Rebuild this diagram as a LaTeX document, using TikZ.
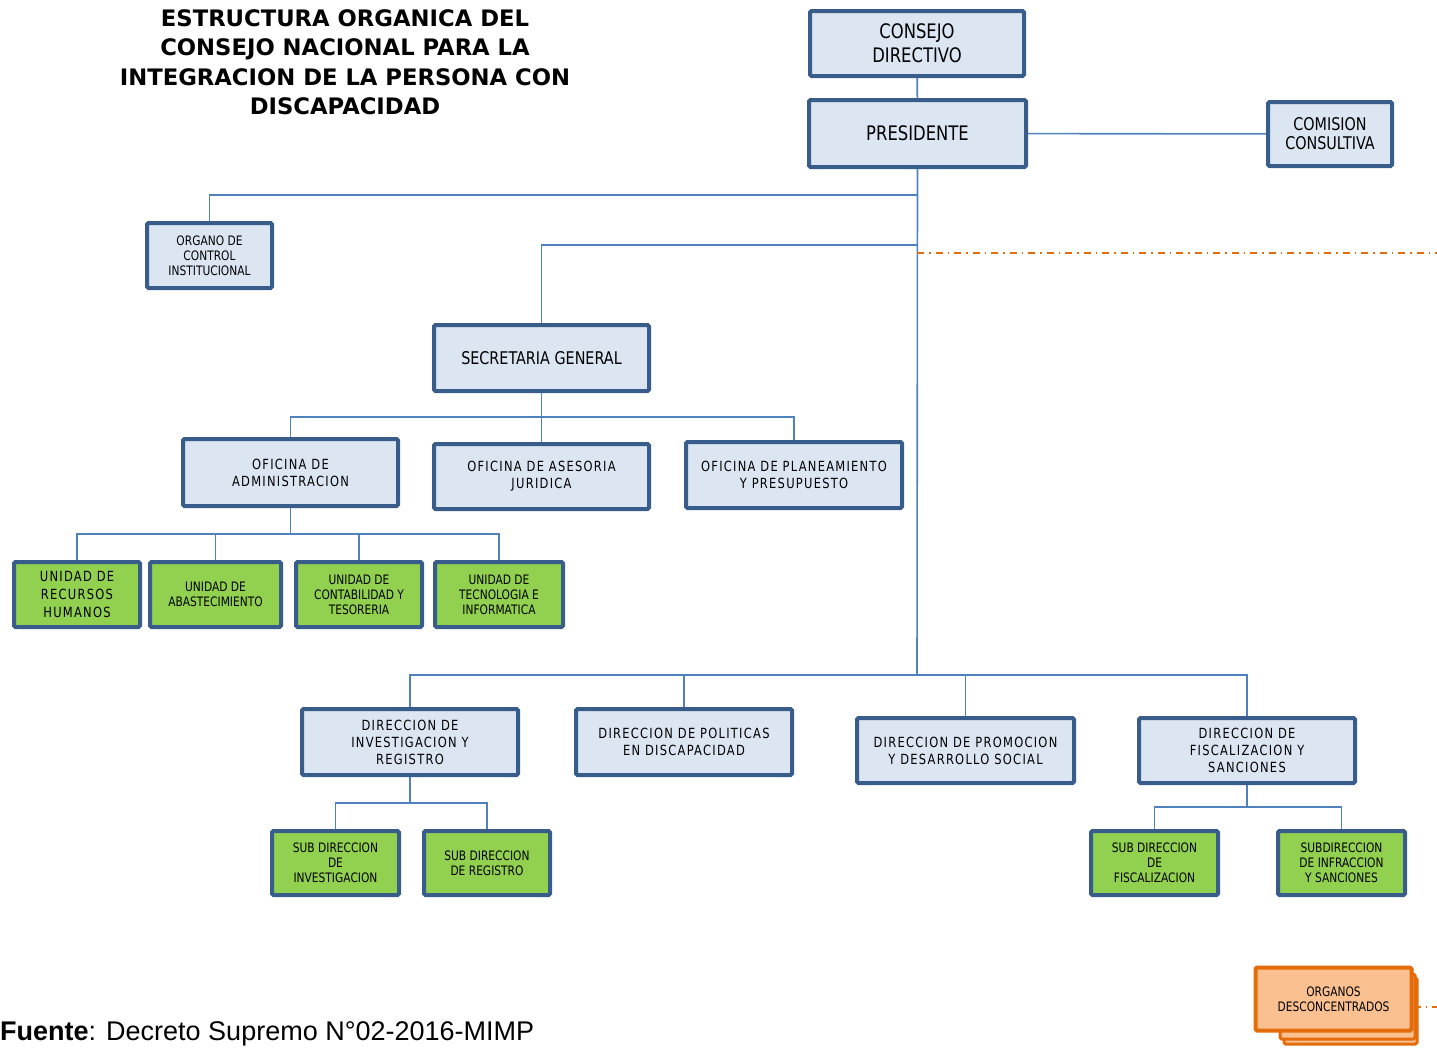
\documentclass[tikz,border=0pt]{standalone}
\usepackage{fontspec}
\setmainfont{DejaVu Sans}
\newfontfamily\tah[FakeStretch=0.82]{DejaVu Sans}
\newfontfamily\tahsp[FakeStretch=0.82,LetterSpace=9]{DejaVu Sans}
\newfontfamily\ttl{DejaVu Sans}
\newfontfamily\arialf{Liberation Sans}
\definecolor{boxfill}{HTML}{DCE6F2}
\definecolor{boxline}{HTML}{385D8A}
\definecolor{grn}{HTML}{92D050}
\definecolor{conn}{HTML}{4F81BD}
\definecolor{orfill}{HTML}{FAC090}
\definecolor{orline}{HTML}{E46C0A}
\begin{document}
\begin{tikzpicture}[x=1pt,y=-1pt,
  bbox/.style={draw=boxline,fill=boxfill,line width=4pt,rounded corners=1.5pt,inner sep=0pt,align=center,text=black},
  gbox/.style={bbox,fill=grn},
  obox/.style={draw=orline,fill=orfill,line width=4pt,rounded corners=1.5pt,inner sep=0pt,align=center,text=black},
  ln/.style={draw=conn,line width=1.6pt},
  dl/.style={draw=orline,line width=1.4pt,dash pattern=on 7pt off 5pt on 1.5pt off 5pt},
  fa/.style={font=\tah\fontsize{20}{24}\selectfont},
  fb/.style={font=\tah\fontsize{17.5}{19}\selectfont},
  fc/.style={font=\tah\fontsize{13}{15}\selectfont},
  fd/.style={font=\tahsp\fontsize{14}{17}\selectfont},
  fe/.style={font=\tahsp\fontsize{14}{18}\selectfont},
]
\useasboundingbox (0,0) rectangle (1437,1047);

% title
\node[font=\ttl\bfseries\fontsize{22.7}{29.5}\selectfont,align=center] (title) at (345,62)
  {ESTRUCTURA ORGANICA DEL\\CONSEJO NACIONAL PARA LA\\INTEGRACION DE LA PERSONA CON\\DISCAPACIDAD};

% top
\node[bbox,fa,minimum width=214pt,minimum height=65pt] (cd) at (917,43.5) {CONSEJO\\DIRECTIVO};
\node[bbox,fa,minimum width=217pt,minimum height=67pt] (pr) at (917.5,133.5) {PRESIDENTE};
\node[bbox,fb,minimum width=124pt,minimum height=64pt] (cc) at (1330,134) {COMISION\\CONSULTIVA};
\node[bbox,fc,minimum width=125pt,minimum height=65pt] (oci) at (209.5,255.5) {ORGANO DE\\CONTROL\\INSTITUCIONAL};
\node[bbox,fb,minimum width=215pt,minimum height=66pt] (sg) at (541.5,358) {SECRETARIA GENERAL};

\node[bbox,fd,minimum width=215pt,minimum height=67pt] (oa) at (290.5,472.5) {OFICINA DE\\ADMINISTRACION};
\node[bbox,fd,minimum width=215pt,minimum height=65pt] (oj) at (541.5,476.5) {OFICINA DE ASESORIA\\JURIDICA};
\node[bbox,fd,minimum width=216pt,minimum height=66pt] (op) at (794,475) {OFICINA DE PLANEAMIENTO\\Y PRESUPUESTO};

\node[gbox,fe,minimum width=126pt,minimum height=65pt] (u1) at (77,594.5) {UNIDAD DE\\RECURSOS\\HUMANOS};
\node[gbox,fc,minimum width=131pt,minimum height=65pt] (u2) at (215.5,594.5) {UNIDAD DE\\ABASTECIMIENTO};
\node[gbox,fc,minimum width=126pt,minimum height=65pt] (u3) at (359,594.5) {UNIDAD DE\\CONTABILIDAD Y\\TESORERIA};
\node[gbox,fc,minimum width=128pt,minimum height=65pt] (u4) at (499,594.5) {UNIDAD DE\\TECNOLOGIA E\\INFORMATICA};

\node[bbox,fd,minimum width=216pt,minimum height=66pt] (d1) at (410,742) {DIRECCION DE\\INVESTIGACION Y\\REGISTRO};
\node[bbox,fd,minimum width=216pt,minimum height=66pt] (d2) at (684,742) {DIRECCION DE POLITICAS\\EN DISCAPACIDAD};
\node[bbox,fd,minimum width=217pt,minimum height=65pt] (d3) at (965.5,750.5) {DIRECCION DE PROMOCION\\Y DESARROLLO SOCIAL};
\node[bbox,fd,minimum width=216pt,minimum height=65pt] (d4) at (1247,750.5) {DIRECCION DE\\FISCALIZACION Y\\SANCIONES};

\node[gbox,fc,minimum width=127pt,minimum height=64pt] (s1) at (335.5,863) {SUB DIRECCION\\DE\\INVESTIGACION};
\node[gbox,fc,minimum width=126pt,minimum height=64pt] (s2) at (487,863) {SUB DIRECCION\\DE REGISTRO};
\node[gbox,fc,minimum width=127pt,minimum height=64pt] (s3) at (1154.5,863) {SUB DIRECCION\\DE\\FISCALIZACION};
\node[gbox,fc,minimum width=127pt,minimum height=64pt] (s4) at (1341.5,863) {SUBDIRECCION\\DE INFRACCION\\Y SANCIONES};

% organos desconcentrados (stacked)
\draw[draw=orline,fill=orfill,line width=3pt,rounded corners=1.5pt] (1284,978) rectangle (1417,1044);
\draw[draw=orline,fill=orfill,line width=3pt,rounded corners=1.5pt] (1280,974) rectangle (1415,1039);
\node[obox,fc,minimum width=156pt,minimum height=63pt] (od) at (1333.5,999) {ORGANOS\\DESCONCENTRADOS};
\coordinate (odr) at (1437,1007);
\draw[dl] (od.east |- odr) -- (odr);

% fuente
\node[anchor=base west,inner sep=0pt,font=\arialf\fontsize{27}{30}\selectfont] (fu) at (0,1040.5) {\textbf{Fuente}: Decreto Supremo N°02-2016-MIMP};

% connectors
\coordinate (t1) at (917,195);
\coordinate (t2) at (917,245);
\coordinate (t3) at (917,675);
\coordinate (dash0) at (917,253);
\coordinate (dash1) at (1437,253);
\draw[ln] (cd) -- (pr);
\draw[ln] (pr) -- (cc);
\draw[ln] (pr.south) -- (t3);
\draw[ln] (t1) -| (oci.north);
\draw[ln] (t2) -| (sg.north);
\draw[dl] (dash0) -- (dash1);

\coordinate (sgb) at (541.5,417);
\draw[ln] (sg.south) -- (sgb);
\draw[ln] (oa.north) |- (sgb) -| (op.north);
\draw[ln] (sgb) -- (oj.north);

\coordinate (oab) at (290.5,534);
\draw[ln] (oa.south) -- (oab);
\draw[ln] (u1.north) |- (oab) -| (u4.north);
\draw[ln] (u2.north) -- (u2.north |- oab);
\draw[ln] (u3.north) -- (u3.north |- oab);

\draw[ln] (d1.north) |- (t3) -| (d4.north);
\draw[ln] (d2.north) -- (d2.north |- t3);
\draw[ln] (d3.north) -- (d3.north |- t3);

\coordinate (d1b) at (410,803);
\draw[ln] (d1.south) -- (d1b);
\draw[ln] (s1.north) |- (d1b) -| (s2.north);
\coordinate (d4b) at (1247,807);
\draw[ln] (d4.south) -- (d4b);
\draw[ln] (s3.north) |- (d4b) -| (s4.north);
\end{tikzpicture}
\end{document}
